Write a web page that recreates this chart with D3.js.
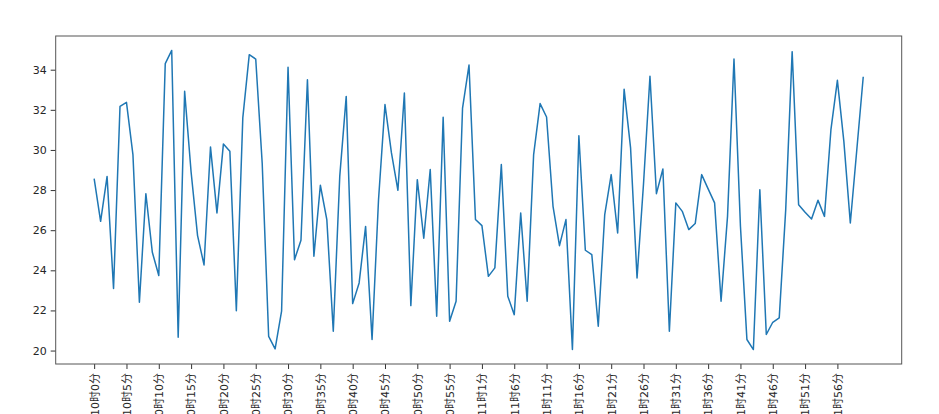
<!DOCTYPE html>
<html>
<head>
<meta charset="utf-8">
<script src="https://cdn.jsdelivr.net/npm/d3@7"></script>
<style>
  html, body { margin: 0; padding: 0; background: #fff; overflow: hidden; }
  svg { display: block; }
</style>
</head>
<body>
<svg id="chart" width="939" height="414"></svg>
<script>
// ---- data ----
const values = [
  28.57, 26.44, 28.68, 23.09, 32.17, 32.37, 29.77, 22.41, 27.82, 24.90,
  23.74, 34.30, 34.96, 20.66, 32.92, 28.90, 25.73, 24.27, 30.15, 26.86,
  30.30, 29.93, 21.99, 31.60, 34.75, 34.53, 29.35, 20.71, 20.08, 21.96,
  34.12, 24.53, 25.50, 33.50, 24.70, 28.24, 26.53, 20.96, 28.68, 32.67,
  22.34, 23.37, 26.19, 20.55, 27.52, 32.26, 29.85, 27.99, 32.84, 22.24,
  28.52, 25.60, 29.02, 21.71, 31.63, 21.46, 22.46, 32.09, 34.23, 26.53,
  26.23, 23.70, 24.12, 29.27, 22.71, 21.79, 26.86, 22.46, 29.77, 32.31,
  31.64, 27.19, 25.23, 26.53, 20.05, 30.71, 25.00, 24.78, 21.21, 26.78,
  28.77, 25.86, 33.03, 30.10, 23.62, 28.30, 33.67, 27.82, 29.05, 20.96,
  27.36, 26.94, 26.03, 26.33, 28.77, 28.06, 27.36, 22.46, 26.69, 34.53,
  26.20, 20.55, 20.05, 28.02, 20.80, 21.41, 21.63, 27.00, 34.90, 27.27,
  26.89, 26.56, 27.49, 26.69, 31.01, 33.47, 30.43, 26.36, 30.00, 33.65
];
const tickLabels = [
  "10时0分", "10时5分", "10时10分", "10时15分", "10时20分", "10时25分",
  "10时30分", "10时35分", "10时40分", "10时45分", "10时50分", "10时55分",
  "11时1分", "11时6分", "11时11分", "11时16分", "11时21分", "11时26分",
  "11时31分", "11时36分", "11时41分", "11时46分", "11时51分", "11时56分"
];
const yTicks = [20, 22, 24, 26, 28, 30, 32, 34];
const tickStep = 5;

(function () {
  // ---- layout ----
  const L = 55.7, R = 901.7, T = 36, B = 364;
  const n = values.length;
  const padX = (n - 1) * 0.05;

  const svg = d3.select("#chart");
  const font = "'DejaVu Sans', 'Noto Sans CJK SC', sans-serif";

  const x = d3.scaleLinear().domain([-padX, n - 1 + padX]).range([L, R]);
  const y = d3.scaleLinear().domain([19.33, 35.68]).range([B, T]);

  // line
  const line = d3.line().x((d, i) => x(i)).y(d => y(d));
  svg.append("path")
    .datum(values)
    .attr("fill", "none")
    .attr("stroke", "#1f77b4")
    .attr("stroke-width", 1.5)
    .attr("stroke-linejoin", "round")
    .attr("d", line);

  // y axis
  const yAxis = d3.axisLeft(y).tickValues(yTicks).tickSize(5).tickPadding(4).tickFormat(d3.format("d"));
  const gy = svg.append("g").attr("transform", `translate(${L},0)`).call(yAxis);
  gy.select(".domain").remove();
  gy.selectAll(".tick line").attr("stroke", "#333").attr("stroke-width", 1);
  gy.selectAll(".tick text").attr("fill", "#262626").style("font-family", font).style("font-size", "11px");

  // x axis
  const tickPos = tickLabels.map((d, i) => i * tickStep);
  const xAxis = d3.axisBottom(x).tickValues(tickPos).tickSize(5).tickFormat((d, i) => tickLabels[i]);
  const gx = svg.append("g").attr("transform", `translate(0,${B})`).call(xAxis);
  gx.select(".domain").remove();
  gx.selectAll(".tick line").attr("stroke", "#333").attr("stroke-width", 1);
  gx.selectAll(".tick text")
    .attr("fill", "#262626")
    .style("font-family", font)
    .style("font-size", "11px")
    .attr("text-anchor", "end")
    .attr("dy", "0.35em")
    .attr("x", 0)
    .attr("y", 0)
    .attr("transform", "translate(0,9) rotate(-90)");

  // frame
  svg.append("rect")
    .attr("x", L).attr("y", T)
    .attr("width", R - L).attr("height", B - T)
    .attr("fill", "none")
    .attr("stroke", "#555")
    .attr("stroke-width", 1);
})();
</script>
</body>
</html>
